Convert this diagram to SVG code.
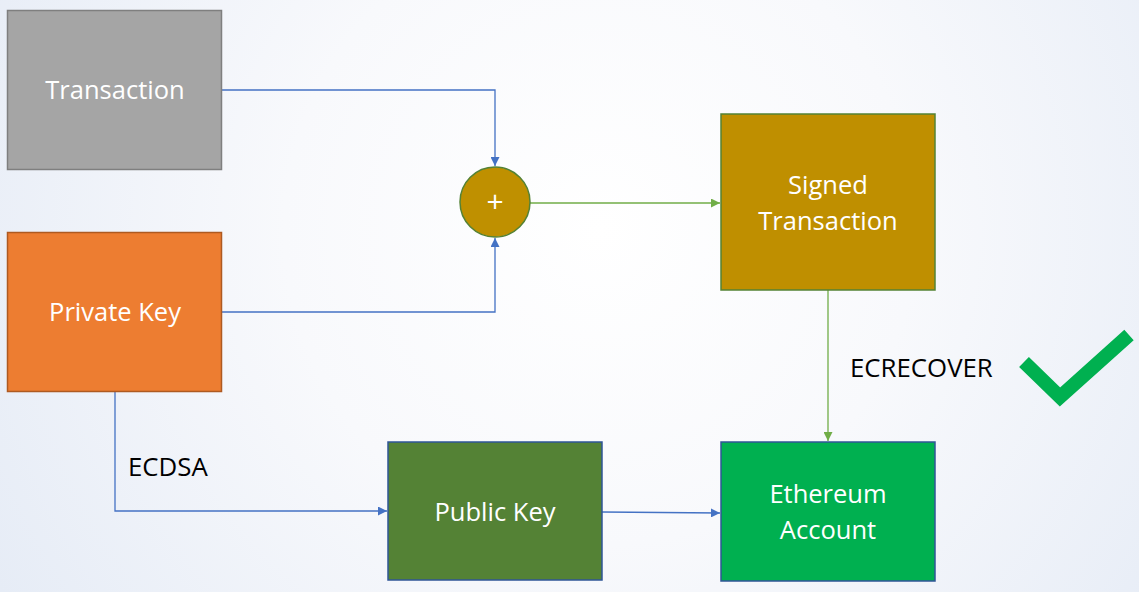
<svg xmlns="http://www.w3.org/2000/svg" width="1139" height="592" viewBox="0 0 1139 592">
<defs>
<radialGradient id="bg" cx="600" cy="230" r="700" gradientUnits="userSpaceOnUse">
<stop offset="0" stop-color="#ffffff"/>
<stop offset="0.45" stop-color="#f8f9fc"/>
<stop offset="1" stop-color="#e6ecf6"/>
</radialGradient>
<marker id="ab" viewBox="0 0 10 10" refX="10" refY="5" markerWidth="9" markerHeight="9" markerUnits="userSpaceOnUse" orient="auto"><path d="M0,0 L10,5 L0,10 z" fill="#4472c4"/></marker>
<marker id="ag" viewBox="0 0 10 10" refX="10" refY="5" markerWidth="9" markerHeight="9" markerUnits="userSpaceOnUse" orient="auto"><path d="M0,0 L10,5 L0,10 z" fill="#70ad47"/></marker>
</defs>
<style>
.nt{font-family:"Open Sans","Noto Sans","Liberation Sans",sans-serif;font-size:25.5px;fill:#ffffff;text-anchor:middle}
.lb{font-family:"Open Sans","Noto Sans","Liberation Sans",sans-serif;font-size:25.8px;fill:#000000}
.cb{fill:none;stroke:#4472c4;stroke-width:1.3}
.cg{fill:none;stroke:#70ad47;stroke-width:1.3}
</style>
<rect width="1139" height="592" fill="url(#bg)"/>
<g id="connectors">
<path class="cb" d="M222,90 H495 V166" marker-end="url(#ab)"/>
<path class="cb" d="M222,312 H495 V238" marker-end="url(#ab)"/>
<path class="cg" d="M530,203 H720" marker-end="url(#ag)"/>
<path class="cg" d="M828,290 V441" marker-end="url(#ag)"/>
<path class="cb" d="M115,391 V511 H387" marker-end="url(#ab)"/>
<path class="cb" d="M602,512 L720,513" marker-end="url(#ab)"/>
</g>
<g id="transaction">
<rect x="7.5" y="10.5" width="214" height="159" fill="#a5a5a5" stroke="#7f7f7f" stroke-width="1.5"/>
<text class="nt" x="115" y="99">Transaction</text>
</g>
<g id="private-key">
<rect x="7.5" y="232.5" width="214" height="159" fill="#ed7d31" stroke="#ae5a21" stroke-width="1.5"/>
<text class="nt" x="115" y="321">Private Key</text>
</g>
<g id="combine">
<circle cx="495" cy="202" r="35" fill="#bf9000" stroke="#548235" stroke-width="1.5"/>
<text x="495" y="212" style="font-family:'Open Sans','Noto Sans',sans-serif;font-size:30px;fill:#ffffff;text-anchor:middle">+</text>
</g>
<g id="signed-transaction">
<rect x="721" y="114" width="214" height="176" fill="#bf8f00" stroke="#548235" stroke-width="1.5"/>
<text class="nt" x="828" y="194">Signed</text>
<text class="nt" x="828" y="230">Transaction</text>
</g>
<g id="public-key">
<rect x="388" y="442" width="214" height="138" fill="#548235" stroke="#2f5597" stroke-width="1.5"/>
<text class="nt" x="495" y="521">Public Key</text>
</g>
<g id="ethereum-account">
<rect x="721" y="442" width="214" height="139" fill="#00b050" stroke="#2f5597" stroke-width="1.5"/>
<text class="nt" x="828" y="503">Ethereum</text>
<text class="nt" x="828" y="539">Account</text>
</g>
<g id="labels">
<text class="lb" x="128" y="476">ECDSA</text>
<text class="lb" x="850" y="377">ECRECOVER</text>
</g>
<g id="checkmark">
<polyline points="1024,362 1060,397 1129,335" fill="none" stroke="#00b050" stroke-width="14" stroke-linejoin="miter"/>
</g>
</svg>
